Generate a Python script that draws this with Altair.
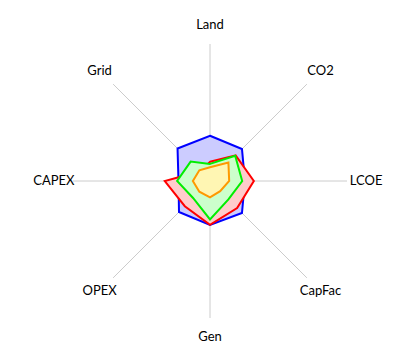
import altair as alt
import pandas as pd

# Axes of the radar, clockwise from the top
axes = ["Land", "CO2", "LCOE", "CapFac", "Gen", "OPEX", "CAPEX", "Grid"]

# Series values (normalised 0..1), drawn in this order
s_blue = [0.33, 0.33, 0.255, 0.33, 0.32, 0.32, 0.23, 0.335]
s_red = [0.14, 0.265, 0.32, 0.28, 0.32, 0.26, 0.33, 0.10]
s_green = [0.125, 0.26, 0.235, 0.19, 0.28, 0.175, 0.24, 0.20]
s_yellow = [0.10, 0.19, 0.14, 0.105, 0.12, 0.11, 0.125, 0.11]

series_names = ["s1", "s2", "s3", "s4"]
series_vals = [s_blue, s_red, s_green, s_yellow]
stroke_cols = ["#0000ff", "#ff0000", "#00ee00", "#ff9900"]
fill_cols = ["#ccccff", "#ffcccc", "#ccffcc", "#fff6b3"]

rows = []
for name, vals in zip(series_names, series_vals):
    for i, (a, v) in enumerate(zip(axes, vals)):
        rows.append({"series": name, "axis": a, "idx": i, "value": v})
df = pd.DataFrame(rows)
axis_df = pd.DataFrame({"axis": axes, "idx": list(range(len(axes)))})

W, H = 419, 356
R = 137.0
cx, cy = 210.0, 181.0
xs = alt.Scale(domain=[-cx / R, (W - cx) / R], nice=False, zero=False)
ys = alt.Scale(domain=[-(H - cy) / R, cy / R], nice=False, zero=False)

rules = alt.Chart(axis_df).transform_calculate(
    x0="0", y0="0",
    x1="sin(datum.idx * PI / 4)", y1="cos(datum.idx * PI / 4)"
).mark_rule(color="#cccccc", strokeWidth=1).encode(
    x=alt.X("x0:Q", scale=xs, axis=None),
    y=alt.Y("y0:Q", scale=ys, axis=None),
    x2="x1:Q", y2="y1:Q",
)

labels = alt.Chart(axis_df).transform_calculate(
    lx="1.14 * sin(datum.idx * PI / 4)", ly="1.14 * cos(datum.idx * PI / 4)"
).mark_text(font="Lato", fontSize=13, color="#000000", align="center", baseline="middle").encode(
    x=alt.X("lx:Q", scale=xs, axis=None),
    y=alt.Y("ly:Q", scale=ys, axis=None),
    text="axis:N",
)

layers = [rules]
for name, sc, fc in zip(series_names, stroke_cols, fill_cols):
    poly = alt.Chart(df).transform_filter(
        alt.datum.series == name
    ).transform_calculate(
        px="datum.value * sin(datum.idx * PI / 4)",
        py="datum.value * cos(datum.idx * PI / 4)",
    ).mark_line(
        interpolate="linear-closed", stroke=sc, fill=fc, strokeWidth=2, fillOpacity=1
    ).encode(
        x=alt.X("px:Q", scale=xs, axis=None),
        y=alt.Y("py:Q", scale=ys, axis=None),
        order="idx:Q",
    )
    layers.append(poly)
layers.append(labels)

chart = alt.layer(*layers).properties(
    width=W, height=H, padding=0, autosize=alt.AutoSizeParams(type="none")
).configure_view(stroke=None)

chart.save("out.html", embed_options={"renderer": "svg", "actions": False})
